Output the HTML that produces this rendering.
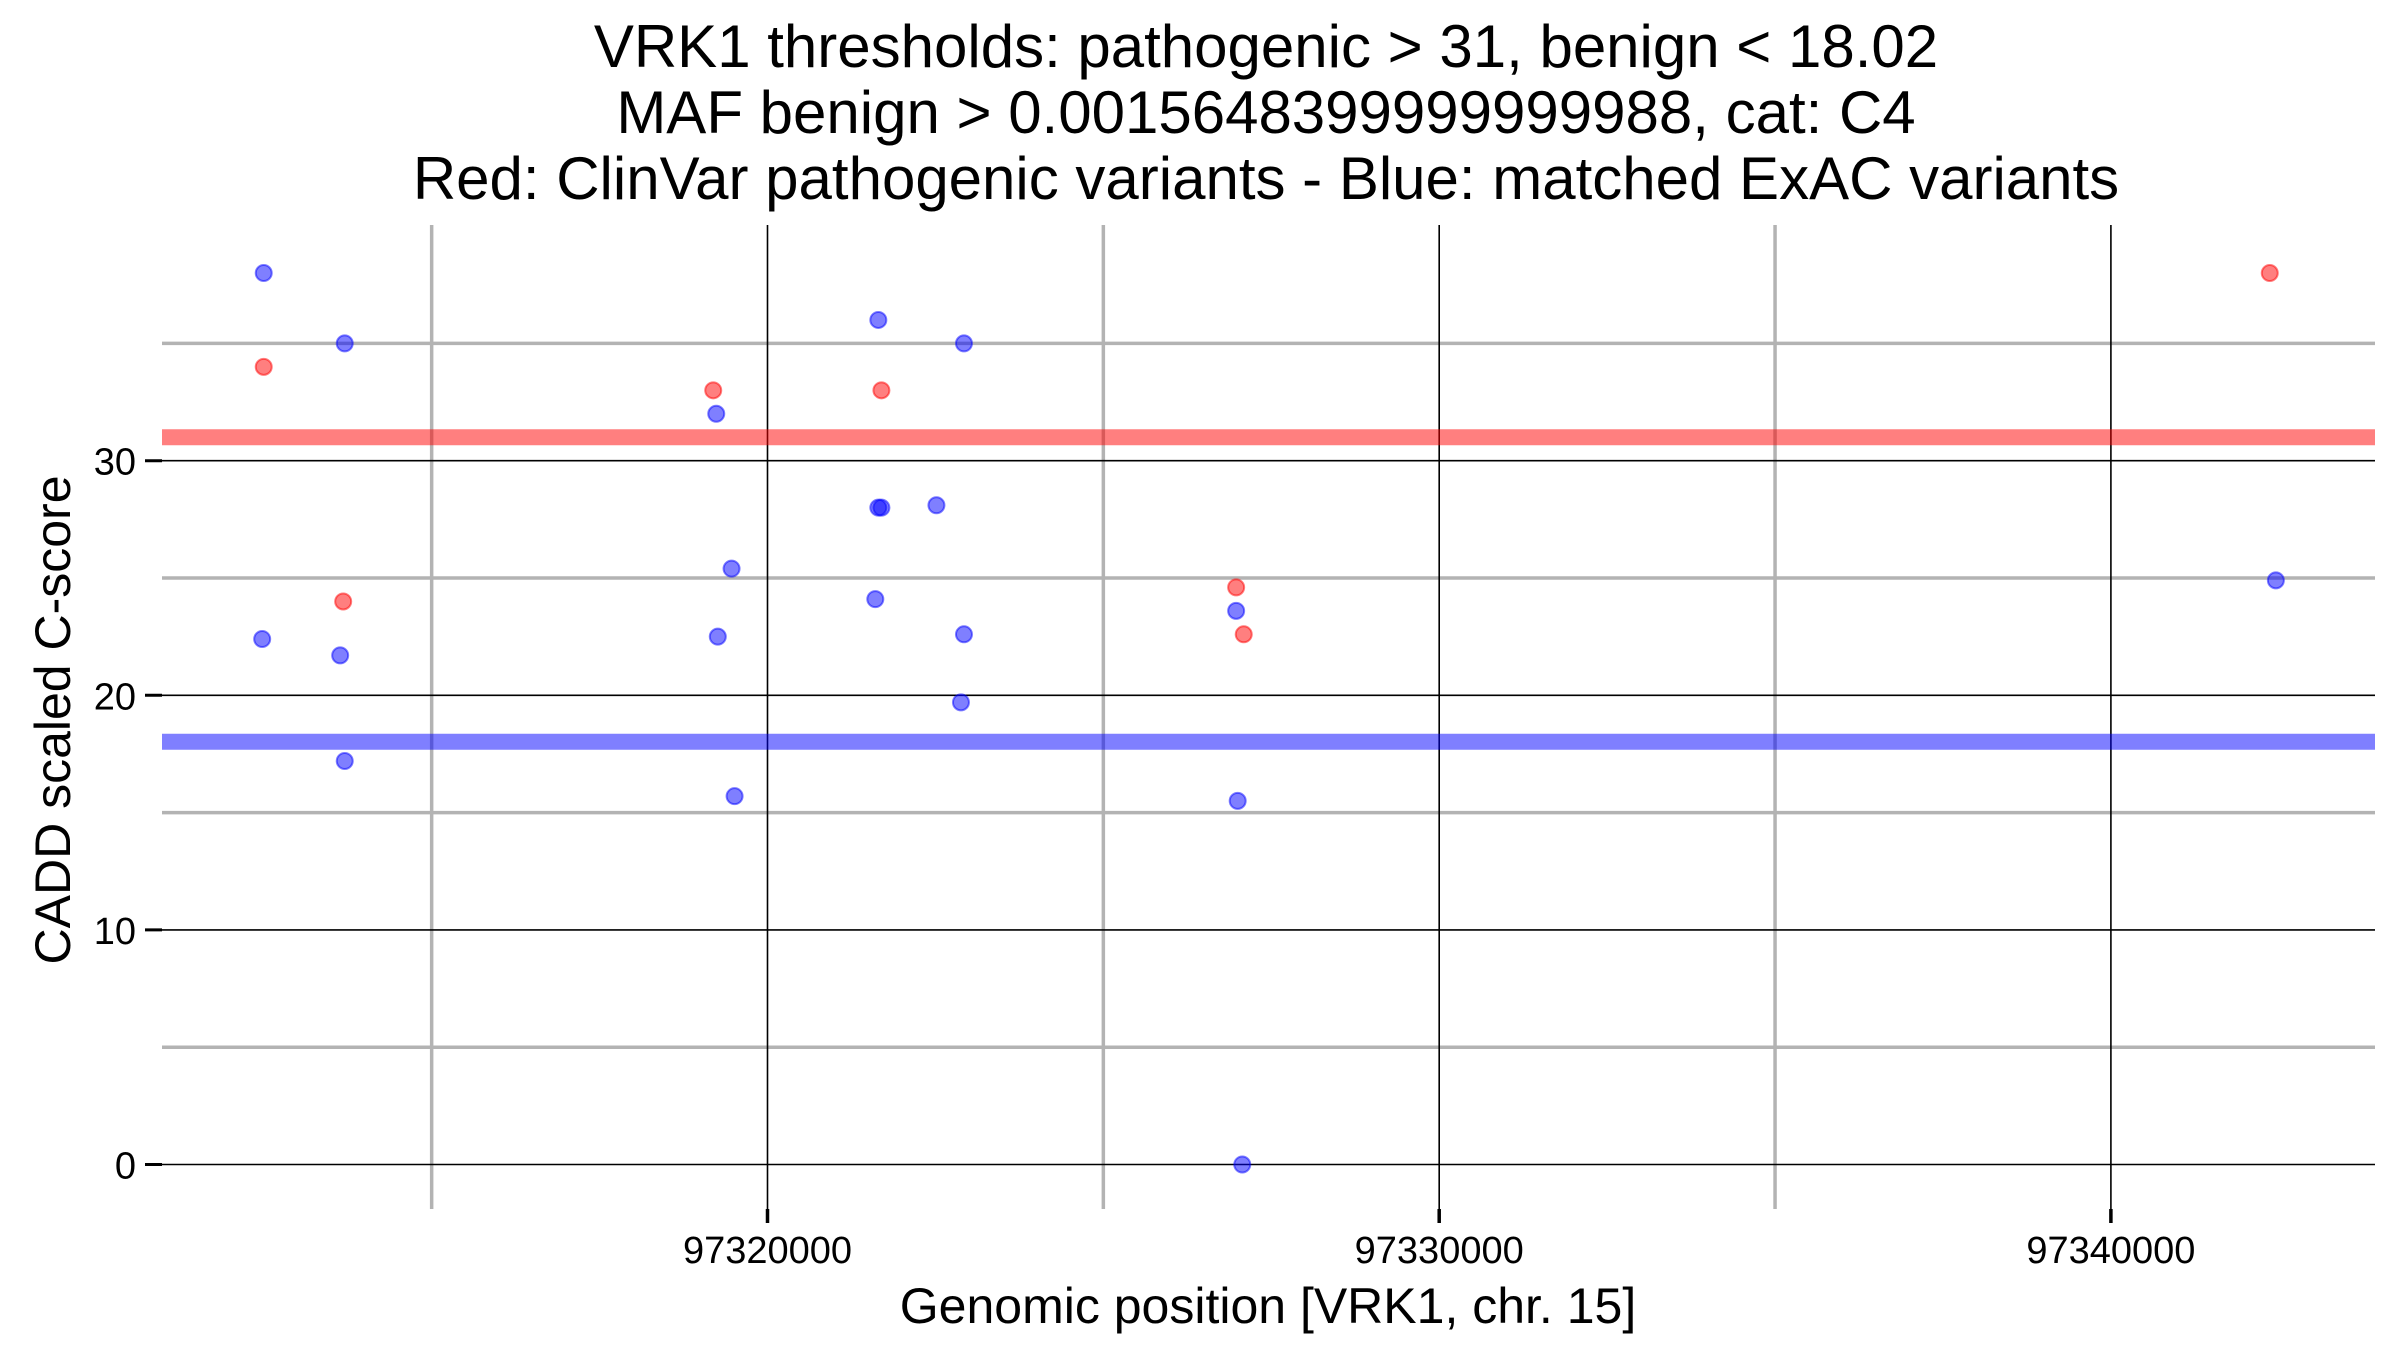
<!DOCTYPE html>
<html><head><meta charset="utf-8"><style>
html,body{margin:0;padding:0;background:#fff;}
svg{display:block;font-family:"Liberation Sans",Arial,sans-serif;}
</style></head><body>
<svg id="chart" width="2400" height="1350" viewBox="0 0 2400 1350">
<g id="titles">
<text x="1266" y="67" text-anchor="middle" font-size="60" fill="#000">VRK1 thresholds: pathogenic &gt; 31, benign &lt; 18.02</text>
<text x="1266" y="133" text-anchor="middle" font-size="60" fill="#000">MAF benign &gt; 0.0015648399999999988, cat: C4</text>
<text x="1266" y="199" text-anchor="middle" font-size="60" fill="#000">Red: ClinVar pathogenic variants - Blue: matched ExAC variants</text>
</g>
<g id="grid"></g>
<g id="thresholds"></g>
<g id="points"></g>
<g id="axes"></g>
<text x="1268" y="1323" text-anchor="middle" font-size="50" fill="#000">Genomic position [VRK1, chr. 15]</text>
<text transform="translate(70,720) rotate(-90)" text-anchor="middle" font-size="50" fill="#000">CADD scaled C-score</text>
</svg>
<script>
const redPos = [97312500, 97313683, 97319192, 97321696, 97326977, 97327090, 97342365];
const redScore = [34, 24, 33, 33, 24.6, 22.6, 38];
const bluePos = [97312500, 97313706, 97312477, 97313638, 97313706, 97319237, 97319465, 97319260, 97319510, 97321650, 97321650, 97321696, 97322515, 97322925, 97321605, 97322925, 97322880, 97326977, 97327000, 97327068, 97342456];
const blueScore = [38, 35, 22.4, 21.7, 17.2, 32, 25.4, 22.5, 15.7, 36, 28, 28, 28.1, 35, 24.1, 22.6, 19.7, 23.6, 15.5, 0, 24.9];
const thresholdValues = [31, 18.02];
const yMajorTicks = [0, 10, 20, 30];
const yMinorTicks = [5, 15, 25, 35];
const xMajorTicks = [97320000, 97330000, 97340000];
const xMinorTicks = [97315000, 97325000, 97335000];

const L=162,R=2375,T=225,B=1209;
function xs(v){return 767.5+(v-97320000)*0.06717;}
function ys(v){return 1164.5-v*23.46;}
const NS="http://www.w3.org/2000/svg";
function mk(tag,attrs,parent){const e=document.createElementNS(NS,tag);for(const k in attrs)e.setAttribute(k,attrs[k]);parent.appendChild(e);return e;}
const grid=document.getElementById('grid'),th=document.getElementById('thresholds'),pts=document.getElementById('points'),ax=document.getElementById('axes');
yMinorTicks.forEach(v=>{const e=mk('line',{x1:L,x2:R,y1:ys(v),y2:ys(v),stroke:'#b3b3b3','stroke-width':3.5},grid);

});
xMinorTicks.forEach(v=>{const e=mk('line',{x1:xs(v),x2:xs(v),y1:T,y2:B,stroke:'#b3b3b3','stroke-width':3.5},grid);

});
yMajorTicks.forEach(v=>{const e=mk('line',{x1:L,x2:R,y1:ys(v),y2:ys(v),stroke:'#000','stroke-width':1.6},grid);


const t=mk('line',{x1:145,x2:L,y1:ys(v),y2:ys(v),stroke:'#000','stroke-width':3},ax);


const l=mk('text',{x:136,y:ys(v)+14,'text-anchor':'end','font-size':38,fill:'#000'},ax);l.textContent=v;

});
xMajorTicks.forEach(v=>{const e=mk('line',{x1:xs(v),x2:xs(v),y1:T,y2:B,stroke:'#000','stroke-width':1.6},grid);


const t=mk('line',{x1:xs(v),x2:xs(v),y1:B,y2:1223,stroke:'#000','stroke-width':3.5},ax);


const l=mk('text',{x:xs(v),y:1263,'text-anchor':'middle','font-size':38,fill:'#000'},ax);l.textContent=v;

});
const thColors=['#ff0000','#0000ff'];
thresholdValues.forEach((v,i)=>{const e=mk('line',{x1:L,x2:R,y1:ys(v),y2:ys(v),stroke:thColors[i],'stroke-opacity':0.5,'stroke-width':16},th);

});
function drawPts(pos,score,col,name){pos.forEach((p,i)=>{const c=mk('circle',{cx:xs(p),cy:ys(score[i]),r:8,fill:col,'fill-opacity':0.5,stroke:col,'stroke-opacity':0.5,'stroke-width':2},pts);

});}
drawPts(redPos,redScore,'#ff0000','clinvar-pathogenic-point');
drawPts(bluePos,blueScore,'#0000ff','exac-variant-point');
</script>
</body></html>
